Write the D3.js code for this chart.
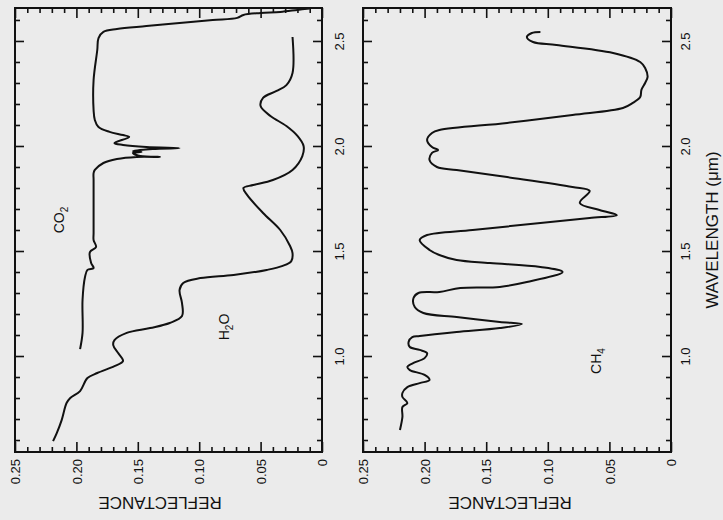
<!DOCTYPE html>
<html><head><meta charset="utf-8">
<script src="https://cdn.jsdelivr.net/npm/d3@7"></script>
<style>
body{margin:0;background:#ebebeb;}
svg{display:block;font-family:"Liberation Sans",Arial,Helvetica,sans-serif;}
</style>
</head><body>
<svg id="c" width="723" height="520"></svg>
<script>
// ---- data (wavelength in µm, reflectance) ----
const co2Wavelength = [1.033,1.110,1.267,1.376,1.410,1.419,1.443,1.495,1.519,1.552,1.586,1.743,1.838,1.871,1.886,1.919,1.938,1.948,1.948,1.952,1.967,1.971,1.976,1.986,1.990,1.995,2.005,2.014,2.043,2.052,2.067,2.090,2.124,2.171,2.314,2.457,2.514,2.543,2.557,2.571,2.586,2.600,2.610,2.624,2.633,2.638,2.648,2.655];
const co2Reflectance = [0.197,0.195,0.195,0.193,0.191,0.186,0.188,0.189,0.184,0.186,0.186,0.186,0.186,0.186,0.185,0.178,0.167,0.151,0.132,0.148,0.154,0.147,0.154,0.138,0.116,0.143,0.162,0.169,0.157,0.162,0.173,0.182,0.185,0.186,0.186,0.183,0.182,0.178,0.167,0.143,0.116,0.089,0.069,0.064,0.050,0.034,0.020,0.010];

const h2oWavelength = [0.595,0.633,0.695,0.776,0.800,0.833,0.895,0.919,0.952,0.976,1.014,1.052,1.076,1.110,1.133,1.157,1.190,1.252,1.314,1.348,1.371,1.386,1.410,1.429,1.452,1.490,1.524,1.600,1.681,1.767,1.800,1.814,1.838,1.886,1.952,2.000,2.048,2.095,2.143,2.190,2.229,2.262,2.290,2.348,2.519];
const h2oReflectance = [0.219,0.216,0.212,0.208,0.205,0.197,0.191,0.183,0.169,0.162,0.166,0.170,0.169,0.159,0.140,0.124,0.114,0.114,0.116,0.113,0.099,0.072,0.045,0.032,0.025,0.024,0.026,0.034,0.048,0.061,0.064,0.056,0.040,0.024,0.016,0.015,0.020,0.029,0.042,0.050,0.048,0.037,0.029,0.024,0.024];

const ch4Wavelength = [0.648,0.710,0.757,0.776,0.805,0.824,0.852,0.871,0.886,0.910,0.933,0.948,0.967,0.990,1.014,1.029,1.043,1.067,1.090,1.095,1.114,1.133,1.152,1.162,1.186,1.205,1.233,1.276,1.300,1.305,1.324,1.329,1.352,1.400,1.424,1.443,1.457,1.481,1.505,1.552,1.576,1.600,1.633,1.657,1.671,1.695,1.729,1.786,1.805,1.852,1.886,1.900,1.933,1.967,1.981,1.995,2.029,2.062,2.076,2.110,2.148,2.181,2.205,2.233,2.267,2.300,2.329,2.371,2.400,2.443,2.481,2.495,2.519,2.538,2.543];
const ch4Reflectance = [0.220,0.218,0.218,0.214,0.218,0.218,0.214,0.204,0.196,0.200,0.212,0.214,0.209,0.200,0.198,0.204,0.212,0.213,0.210,0.204,0.174,0.139,0.121,0.139,0.174,0.201,0.208,0.209,0.205,0.188,0.171,0.139,0.117,0.088,0.106,0.147,0.174,0.188,0.196,0.204,0.198,0.161,0.106,0.066,0.044,0.058,0.074,0.066,0.080,0.133,0.174,0.190,0.196,0.194,0.189,0.194,0.198,0.194,0.188,0.133,0.080,0.039,0.031,0.025,0.024,0.021,0.019,0.021,0.025,0.047,0.093,0.112,0.117,0.113,0.106];

const wavelengthTicks = [1.0, 1.5, 2.0, 2.5];
const wavelengthTickLabels = ["1.0", "1.5", "2.0", "2.5"];
const reflectanceTicks = [0.25, 0.20, 0.15, 0.10, 0.05, 0];
const reflectanceTickLabels = ["0.25", "0.20", "0.15", "0.10", "0.05", "0"];
const reflectanceTitle = "REFLECTANCE";
const wavelengthTitle = "WAVELENGTH (\u03bcm)";

// ---- drawing ----
const svg = d3.select("#c");
const ink = "#111111";
const fontStack = '"Liberation Sans",Arial,Helvetica,sans-serif';
const yTop = 8, yBot = 452;
const yW = d3.scaleLinear().domain([0.543, 2.657]).range([yBot, yTop]);

const panels = [
  {x0: 15, x1: 322, labOff: 17, titleX: 160,
   series: [{w: co2Wavelength, r: co2Reflectance}, {w: h2oWavelength, r: h2oReflectance}],
   notes: [{main: ["CO", "2", ""], x: 59, y: 220}, {main: ["H", "2", "O"], x: 224, y: 327}]},
  {x0: 363, x1: 671, labOff: 14, titleX: 510,
   series: [{w: ch4Wavelength, r: ch4Reflectance}],
   notes: [{main: ["CH", "4", ""], x: 596, y: 361}]}
];

const minorW = d3.range(6, 27).map(d => d / 10).filter(d => !wavelengthTicks.some(t => Math.abs(t - d) < 1e-6));
const minorR = d3.range(0, 26).map(d => d / 100).filter(d => !reflectanceTicks.some(t => Math.abs(t - d) < 1e-6));

function styleAxis(g) {
  g.attr("font-family", fontStack).attr("font-size", 13);
  g.select(".domain").remove();
  g.selectAll("line").attr("stroke", ink).attr("stroke-width", 1.6);
  g.selectAll("text").attr("fill", ink);
}

panels.forEach(p => {
  const xR = d3.scaleLinear().domain([0.25, 0]).range([p.x0, p.x1]);
  const g = svg.append("g");

  // wavelength axes (right edge with labels, left edge ticks only) — ticks point inward
  g.append("g").attr("transform", `translate(${p.x1},0)`)
    .call(d3.axisRight(yW).tickValues(minorW).tickSize(-5).tickFormat("")).call(styleAxis);
  const wa = g.append("g").attr("transform", `translate(${p.x1},0)`)
    .call(d3.axisRight(yW).tickValues(wavelengthTicks).tickSize(-9)
      .tickFormat((d, i) => wavelengthTickLabels[i])).call(styleAxis);
  wa.selectAll(".tick text")
    .attr("x", null).attr("dy", "0.36em")
    .attr("transform", `translate(${p.labOff},0) rotate(-90)`)
    .attr("text-anchor", "middle");

  g.append("g").attr("transform", `translate(${p.x0},0)`)
    .call(d3.axisLeft(yW).tickValues(minorW).tickSize(-5).tickFormat("")).call(styleAxis);
  g.append("g").attr("transform", `translate(${p.x0},0)`)
    .call(d3.axisLeft(yW).tickValues(wavelengthTicks).tickSize(-9).tickFormat("")).call(styleAxis);

  // reflectance axes (bottom with labels, top ticks only)
  g.append("g").attr("transform", `translate(0,${yBot})`)
    .call(d3.axisBottom(xR).tickValues(minorR).tickSize(-5).tickFormat("")).call(styleAxis);
  const ra = g.append("g").attr("transform", `translate(0,${yBot})`)
    .call(d3.axisBottom(xR).tickValues(reflectanceTicks).tickSize(-10)
      .tickFormat((d, i) => reflectanceTickLabels[i])).call(styleAxis);
  ra.selectAll(".tick text")
    .attr("y", 0).attr("dy", "0.36em")
    .attr("transform", "translate(0,7) rotate(-90)")
    .attr("text-anchor", "end");

  g.append("g").attr("transform", `translate(0,${yTop})`)
    .call(d3.axisTop(xR).tickValues(minorR).tickSize(-5).tickFormat("")).call(styleAxis);
  g.append("g").attr("transform", `translate(0,${yTop})`)
    .call(d3.axisTop(xR).tickValues(reflectanceTicks).tickSize(-10).tickFormat("")).call(styleAxis);

  // frame
  g.append("rect").attr("x", p.x0).attr("y", yTop)
    .attr("width", p.x1 - p.x0).attr("height", yBot - yTop)
    .attr("fill", "none").attr("stroke", ink).attr("stroke-width", 2);

  // curves
  const line = d3.line().x(d => xR(d[1])).y(d => yW(d[0])).curve(d3.curveCatmullRom.alpha(0.5));
  p.series.forEach(s => {
    g.append("path").datum(d3.zip(s.w, s.r))
      .attr("d", line).attr("fill", "none")
      .attr("stroke", ink).attr("stroke-width", 2).attr("stroke-linejoin", "round");
  });

  // species labels
  p.notes.forEach(n => {
    const t = g.append("text").attr("transform", `translate(${n.x},${n.y}) rotate(-90)`)
      .attr("text-anchor", "middle").attr("dy", "0.36em")
      .attr("font-size", 14).attr("fill", ink);
    t.append("tspan").text(n.main[0]);
    t.append("tspan").attr("font-size", 10).attr("dy", 4).text(n.main[1]);
    if (n.main[2]) t.append("tspan").attr("dy", -4).text(n.main[2]);
  });

  // reflectance title (upside down as in the scan)
  g.append("text").attr("transform", `translate(${p.titleX},503) rotate(180)`)
    .attr("text-anchor", "middle").attr("dy", "0.36em")
    .attr("font-size", 17).attr("fill", ink).text(reflectanceTitle);
});

svg.append("text").attr("transform", `translate(712,${yW(1.6)}) rotate(-90)`)
  .attr("text-anchor", "middle").attr("dy", "0.36em")
  .attr("font-size", 17).attr("fill", ink).text(wavelengthTitle);
</script>
</body></html>
